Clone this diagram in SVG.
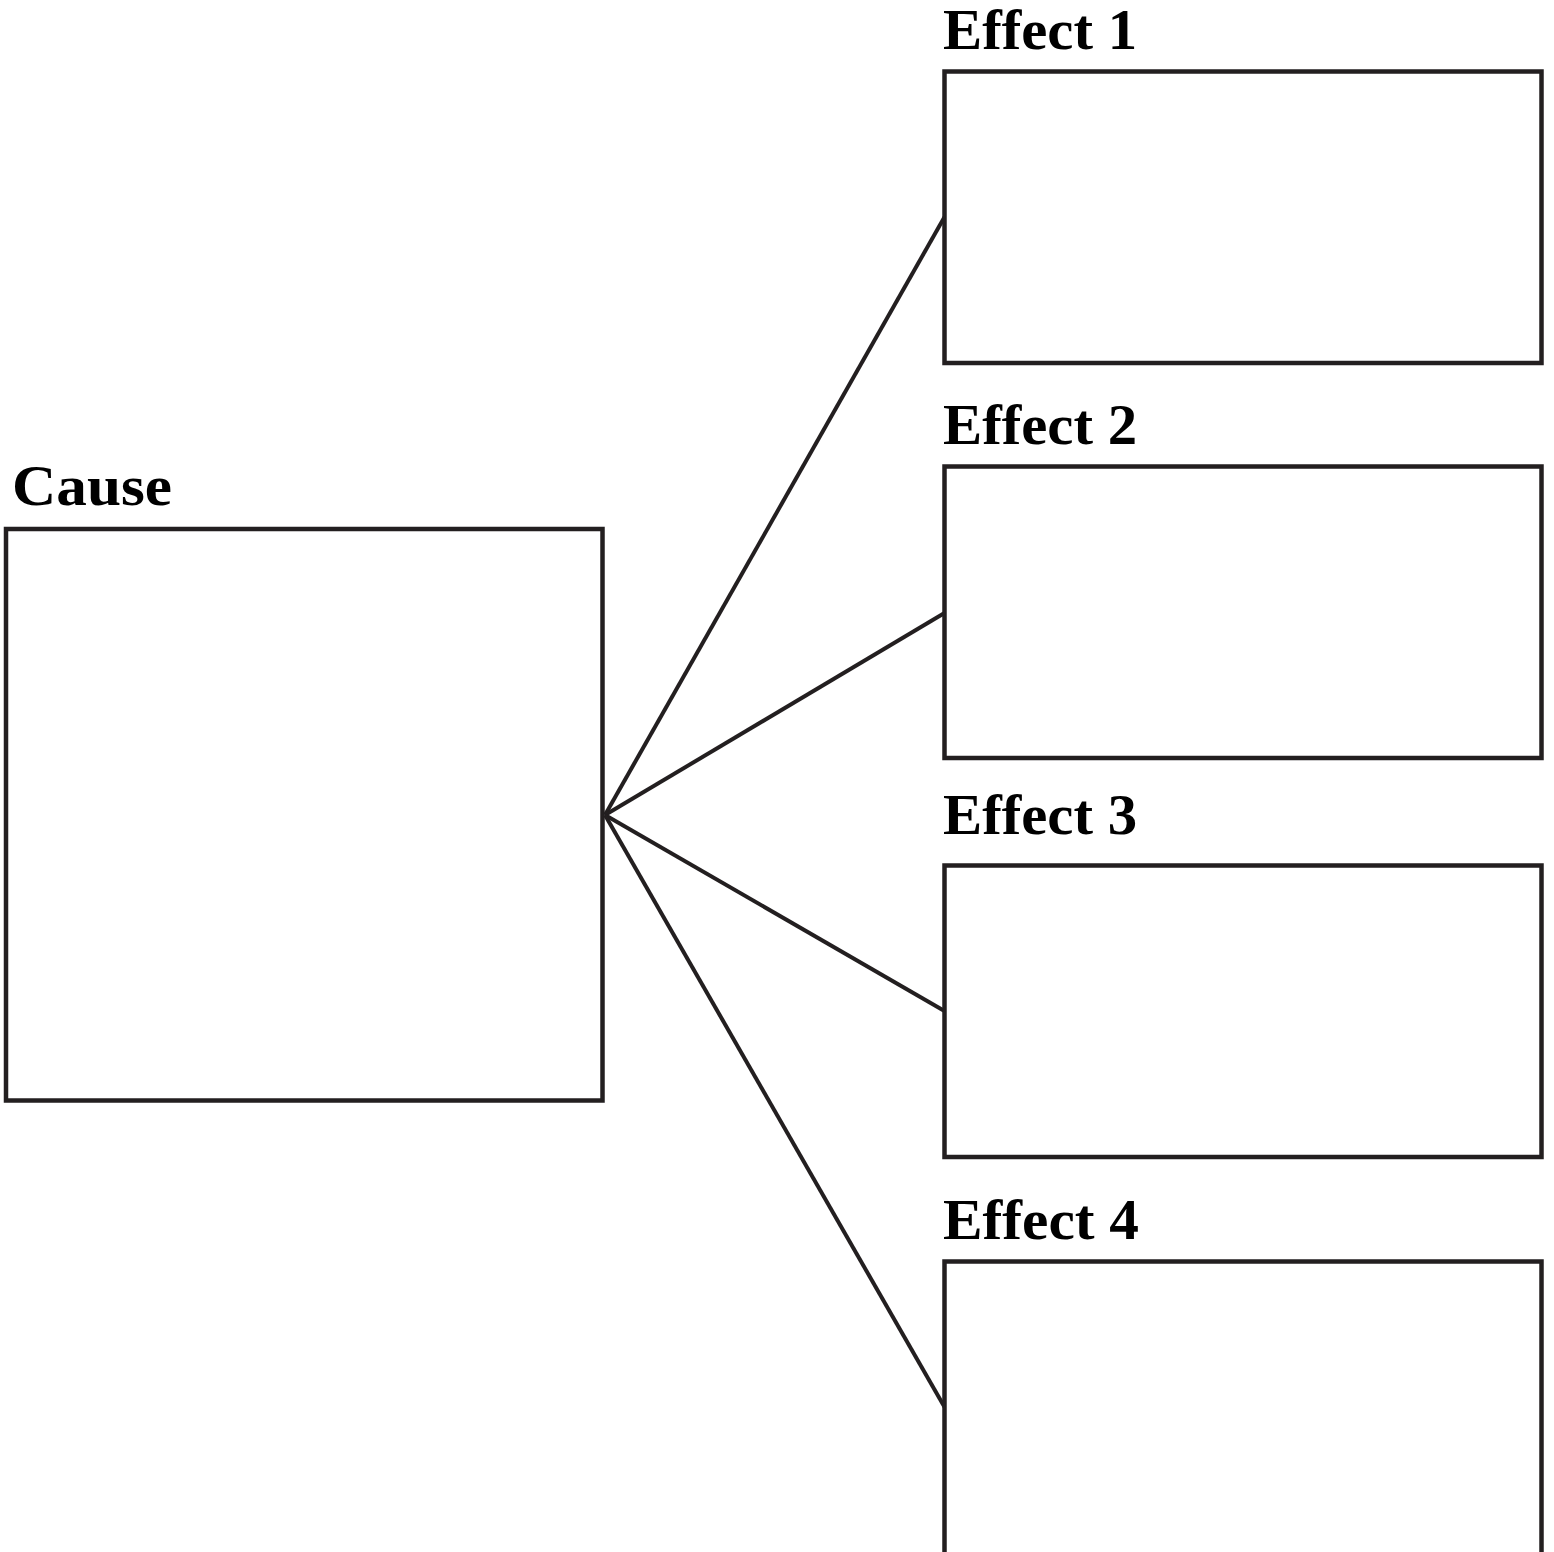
<svg xmlns="http://www.w3.org/2000/svg" width="1554" height="1552" viewBox="0 0 1554 1552">
<style>
.box{fill:#fff;stroke:#231f20;stroke-width:4.5}
.lbl{font-family:"Liberation Serif","Times New Roman",serif;font-weight:bold;font-size:56px;fill:#000}
.con{stroke:#231f20;stroke-width:4;fill:none}
</style>
<rect width="1554" height="1552" fill="#fff"/>
<g id="connectors">
<line class="con" x1="605" y1="815" x2="944.5" y2="217"/>
<line class="con" x1="605" y1="815" x2="944.5" y2="613"/>
<line class="con" x1="605" y1="815" x2="944.5" y2="1011"/>
<line class="con" x1="605" y1="815" x2="944.5" y2="1407"/>
</g>
<g id="cause">
<rect class="box" x="6" y="529" width="596.5" height="571.5"/>
<text class="lbl" x="12" y="505" textLength="160" lengthAdjust="spacingAndGlyphs">Cause</text>
</g>
<g id="effect1">
<rect class="box" x="944.5" y="71.5" width="597" height="291.5"/>
<text class="lbl" x="943" y="49" textLength="194" lengthAdjust="spacingAndGlyphs">Effect 1</text>
</g>
<g id="effect2">
<rect class="box" x="944.5" y="466.5" width="597" height="291.5"/>
<text class="lbl" x="943" y="444" textLength="194" lengthAdjust="spacingAndGlyphs">Effect 2</text>
</g>
<g id="effect3">
<rect class="box" x="944.5" y="865.5" width="597" height="291.5"/>
<text class="lbl" x="943" y="834" textLength="194" lengthAdjust="spacingAndGlyphs">Effect 3</text>
</g>
<g id="effect4">
<rect class="box" x="944.5" y="1261.5" width="597" height="310"/>
<text class="lbl" x="943" y="1239" textLength="196" lengthAdjust="spacingAndGlyphs">Effect 4</text>
</g>
</svg>
